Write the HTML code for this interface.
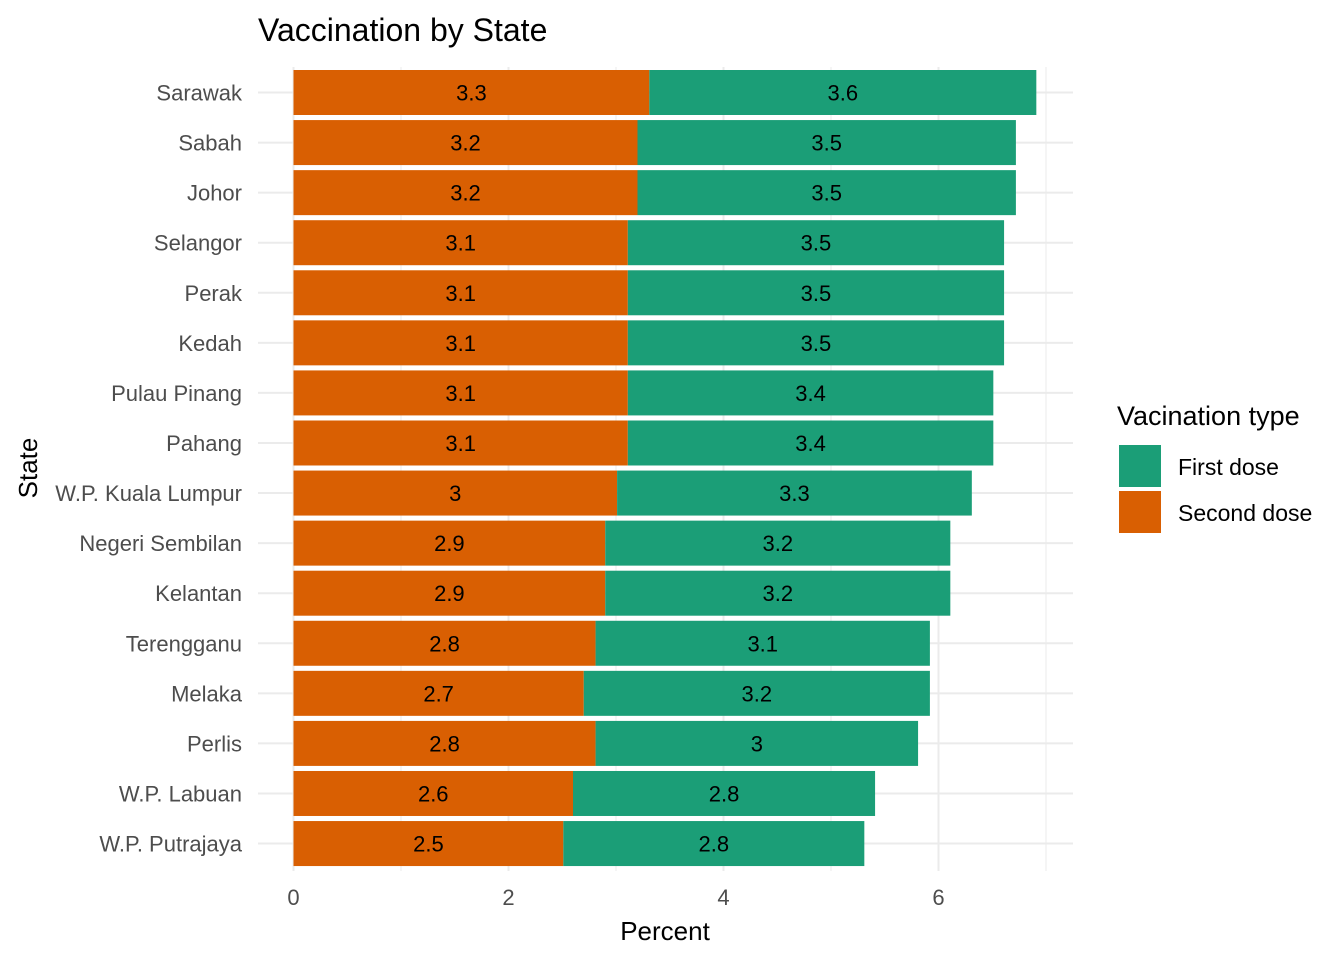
<!DOCTYPE html>
<html><head><meta charset="utf-8"><style>
body{margin:0;background:#fff;}
svg{display:block;font-family:"Liberation Sans",Arial,sans-serif;}
</style></head><body>
<svg id="chart" width="1344" height="960">
<text x="258" y="41" font-size="32" fill="#000">Vaccination by State</text>
<g id="grid"></g>
<g id="bars"></g>
<g id="yaxis"></g>
<g id="xaxis"></g>
<text x="665" y="940" font-size="26" text-anchor="middle" fill="#000">Percent</text>
<text transform="translate(37,468) rotate(-90)" font-size="26" text-anchor="middle" fill="#000">State</text>
<g>
<text x="1117" y="425" font-size="27" fill="#000">Vacination type</text>
<rect x="1119" y="445" width="42" height="42" fill="#1b9e77"/>
<text x="1178" y="475" font-size="23" fill="#000">First dose</text>
<rect x="1119" y="491" width="42" height="42" fill="#d95f02"/>
<text x="1178" y="521" font-size="23" fill="#000">Second dose</text>
</g>
</svg>
<script>
const states=["Sarawak","Sabah","Johor","Selangor","Perak","Kedah","Pulau Pinang","Pahang","W.P. Kuala Lumpur","Negeri Sembilan","Kelantan","Terengganu","Melaka","Perlis","W.P. Labuan","W.P. Putrajaya"];
const secondDose=[3.31,3.20,3.20,3.11,3.11,3.11,3.11,3.11,3.01,2.90,2.90,2.81,2.70,2.81,2.60,2.51];
const firstDose=[3.60,3.52,3.52,3.50,3.50,3.50,3.40,3.40,3.30,3.21,3.21,3.11,3.22,3.00,2.81,2.80];
const xTicks=[0,2,4,6];
const xMinor=[1,3,5,7];

const NS="http://www.w3.org/2000/svg";
const x0=293.5, k=107.5;
const X=v=>x0+v*k;
const Y=i=>92.5+i*50.07;
const bh=45;
function mk(tag,attrs,parent){const e=document.createElementNS(NS,tag);for(const a in attrs)e.setAttribute(a,attrs[a]);parent.appendChild(e);return e;}
const grid=document.getElementById('grid'),bars=document.getElementById('bars'),ya=document.getElementById('yaxis'),xa=document.getElementById('xaxis');
const panelTop=67,panelBot=871,panelLeft=258,panelRight=1073;
xMinor.forEach(v=>{const l=mk('line',{x1:X(v),x2:X(v),y1:panelTop,y2:panelBot,stroke:'#ebebeb','stroke-width':1},grid);

});
xTicks.forEach(v=>{const l=mk('line',{x1:X(v),x2:X(v),y1:panelTop,y2:panelBot,stroke:'#ebebeb','stroke-width':2},grid);


const t=mk('text',{x:X(v),y:905,'font-size':22,'text-anchor':'middle',fill:'#4d4d4d'},xa);t.textContent=v;

});
const fmt=v=>{const r=Math.round(v*10)/10;return String(r);};
states.forEach((s,i)=>{const y=Y(i);
const l=mk('line',{x1:panelLeft,x2:panelRight,y1:y,y2:y,stroke:'#ebebeb','stroke-width':2},grid);


const t=mk('text',{x:242,y:y+8,'font-size':22,'text-anchor':'end',fill:'#4d4d4d'},ya);t.textContent=s;


const a=secondDose[i],b=firstDose[i];
const r1=mk('rect',{x:X(0),y:y-bh/2,width:X(a)-X(0),height:bh,fill:'#d95f02'},bars);


const r2=mk('rect',{x:X(a),y:y-bh/2,width:X(a+b)-X(a),height:bh,fill:'#1b9e77'},bars);


const l1=mk('text',{x:X(a/2),y:y+8,'font-size':22,'text-anchor':'middle',fill:'#000'},bars);l1.textContent=fmt(a);


const l2=mk('text',{x:X(a+b/2),y:y+8,'font-size':22,'text-anchor':'middle',fill:'#000'},bars);l2.textContent=fmt(b);


});
</script>
</body></html>
